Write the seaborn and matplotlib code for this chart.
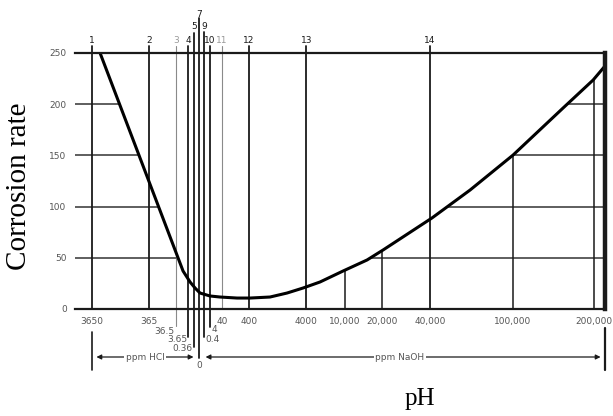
import numpy as np
import pandas as pd
import seaborn as sns
import matplotlib.pyplot as plt
from matplotlib import transforms

#%% data ##########################################################################
# pH reference lines, concentration in ppm (negative = HCl, positive = NaOH)
ph_values = [1, 2, 3, 4, 5, 7, 9, 10, 11, 12, 13, 14]
ph_ppm = [-3650, -365, -36.5, -3.65, -0.365, 0, 0.4, 4, 40, 400, 4000, 40000]

# extra NaOH lines that only run up to the curve
extra_ppm = [10000, 20000, 100000, 200000]

# corrosion curve
curve_ppm = [-2870, -12.1, -2.16, -0.19, 0.003, 4.3, 30, 178, 430, 1160, 2210,
             3650, 5750, 9690, 15400, 20200, 41000, 64600, 100500, 156500,
             198500, 215600]
curve_rate = [250, 37.1, 26.4, 20.5, 15.6, 12.7, 11.7, 10.7, 10.7, 11.7, 15.6,
              20.5, 26.4, 37.1, 47.9, 57.6, 88.9, 116.2, 150.4, 196.3,
              223.6, 236.3]

rate_ticks = [0, 50, 100, 150, 200, 250]

# ppm labels under the axis
main_ppm = [-3650, -365, 40, 400, 4000, 10000, 20000, 40000, 100000, 200000]
main_text = ['3650', '365', '40', '400', '4000', '10,000', '20,000',
             '40,000', '100,000', '200,000']
small_ppm = [-36.5, -3.65, -0.365, 0, 0.4, 4]
small_text = ['36.5', '3.65', '0.36', '0', '0.4', '4']


def to_molar(ppm):
    # HCl 36.5 g/mol, NaOH 40 g/mol -> the chart is cube-root in molarity
    ppm = np.asarray(ppm, dtype=float)
    return np.where(ppm < 0, ppm / 36500.0, ppm / 40000.0)


#%% style #########################################################################
sns.set_theme(style='white')
plt.rcParams['font.family'] = ['DejaVu Sans']

ink = '#1a1a1a'
grey = '#555555'

fig, ax = plt.subplots(figsize=(6.13, 4.16), dpi=100)
fig.subplots_adjust(left=75/613, right=605/613, bottom=1-309/416, top=1-53/416)

ax.set_xscale('function', functions=(np.cbrt, lambda u: u**3))
ax.set_xlim(float(to_molar(-5650)), float(to_molar(217000)))
ax.set_ylim(0, 250)

trans = transforms.blended_transform_factory(ax.transData, ax.transAxes)

#%% grid (hidden above the curve) ##################################################
for r in rate_ticks[1:-1]:
    ax.axhline(r, color='#333333', lw=1.1, zorder=1)
for x in to_molar(extra_ppm):
    ax.axvline(x, color=ink, lw=1.1, zorder=1)

df = pd.DataFrame({'conc': to_molar(curve_ppm), 'rate': curve_rate})
ax.fill_between(df['conc'], df['rate'], 250, color='white', zorder=2, lw=0)

#%% pH lines ######################################################################
tops = {5: 1.078, 7: 1.137, 9: 1.082}
bottoms = {3: -0.066, 4: -0.109, 5: -0.148, 7: -0.191, 9: -0.109, 10: -0.07}
label_y = {5: 1.105, 7: 1.152, 9: 1.105}
for ph, x in zip(ph_values, to_molar(ph_ppm)):
    faint = ph in (3, 11)
    ax.plot([x, x], [bottoms.get(ph, 0), tops.get(ph, 1.027)], transform=trans,
            color='#8a8a8a' if faint else ink, lw=0.8 if faint else 1.3,
            clip_on=False, zorder=3)
    ax.text(x, label_y.get(ph, 1.047), str(ph), transform=trans, ha='center',
            va='center', fontsize=6.5, color='#999999' if faint else ink)

#%% curve #########################################################################
sns.lineplot(data=df, x='conc', y='rate', color='black', lw=2.2, sort=False,
             ax=ax, zorder=5)

#%% axes frame ####################################################################
ax.spines['left'].set_visible(False)
ax.spines['top'].set_linewidth(1.6)
ax.spines['bottom'].set_linewidth(1.6)
ax.spines['right'].set_linewidth(3.2)
for s in ax.spines.values():
    s.set_color(ink)
    s.set_zorder(10)

ax.set_yticks(rate_ticks)
ax.set_yticklabels([str(t) for t in rate_ticks], fontsize=6.5, color=grey)
ax.tick_params(axis='y', length=0, pad=6)
ax.set_xticks([])
ax.minorticks_off()

# ppm labels
for x, t in zip(to_molar(main_ppm), main_text):
    ax.text(x, -0.047, t, transform=trans, ha='center', va='center',
            fontsize=6.5, color=grey)
small_pos = [(-1, -0.086, 'right'), (-1, -0.121, 'right'), (-1, -0.156, 'right'),
             (0, -0.219, 'center'), (1, -0.121, 'left'), (1, -0.082, 'left')]
for x, t, (dx, y, ha) in zip(to_molar(small_ppm), small_text, small_pos):
    ax.annotate(t, xy=(x, y), xycoords=trans, xytext=(dx, 0),
                textcoords='offset points', ha=ha, va='center',
                fontsize=6.5, color=grey)

# stubs at the ends of the ppm scale
ax.plot([to_molar(-3650)] * 2, [-0.09, -0.238], transform=trans, color=ink,
        lw=1.2, clip_on=False)
ax.plot([1.0, 1.0], [-0.074, -0.238], transform=ax.transAxes, color=ink,
        lw=1.6, clip_on=False)

# ppm HCl / ppm NaOH arrows
arrow = dict(arrowstyle='<|-|>', color=ink, lw=0.9, mutation_scale=7,
             shrinkA=0, shrinkB=0)
ax.annotate('', xy=(float(to_molar(-3200)), -0.1875), xycoords=trans,
            xytext=(float(to_molar(-0.5)), -0.1875), textcoords=trans,
            arrowprops=arrow)
ax.annotate('', xy=(float(to_molar(0.9)), -0.1875), xycoords=trans,
            xytext=(float(to_molar(210000)), -0.1875), textcoords=trans,
            arrowprops=arrow)
box = dict(facecolor='white', edgecolor='none', pad=1)
ax.text(0.132, -0.1875, 'ppm HCl', transform=ax.transAxes, ha='center',
        va='center', fontsize=6.5, color=grey, bbox=box)
ax.text(0.613, -0.1875, 'ppm NaOH', transform=ax.transAxes, ha='center',
        va='center', fontsize=6.5, color=grey, bbox=box)

#%% axis titles ###################################################################
serif = ['Liberation Serif', 'DejaVu Serif']
ax.set_ylabel('Corrosion rate', fontsize=21, family=serif, color='black')
ax.yaxis.set_label_coords(-0.081, 0.48)
ax.set_xlabel('pH', fontsize=18, family=serif, color='black')
ax.xaxis.set_label_coords(0.651, -0.309)

fig.savefig('out.png', dpi=100)
